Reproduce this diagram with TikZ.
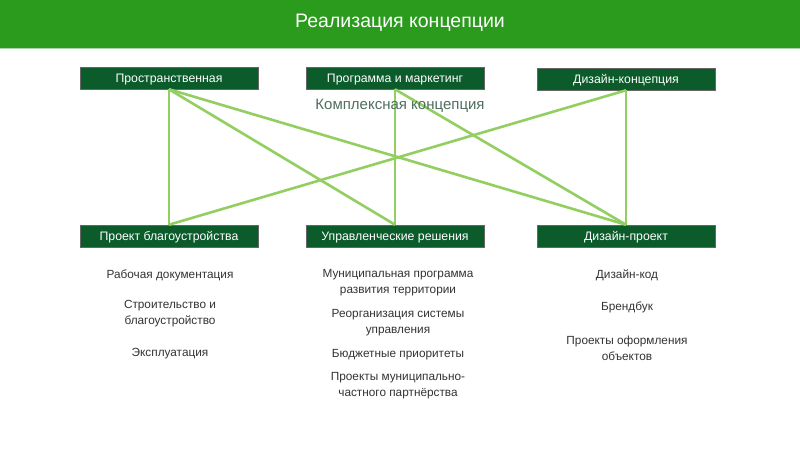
\documentclass[tikz,border=0pt]{standalone}
\usepackage{fontspec}
\setmainfont{Liberation Sans}
\begin{document}
\begin{tikzpicture}[x=1pt,y=-1pt,
  box/.style={draw=black!60,line width=0.6pt,fill=boxgreen,text=white,minimum width=178pt,minimum height=22pt,inner sep=0pt,text height=9.5pt,text depth=0.8pt,font=\fontsize{12.3}{14}\selectfont},
  link/.style={draw=linkgreen,line width=2.6pt},
  desc/.style={text=black!80,align=center,font=\fontsize{11.8}{16}\selectfont,inner sep=0pt}]
\definecolor{bargreen}{HTML}{2B9B1E}
\definecolor{boxgreen}{HTML}{0B5B2B}
\definecolor{linkgreen}{HTML}{93CF60}
\definecolor{subgreen}{HTML}{4E6E5E}
\useasboundingbox (0,0) rectangle (800,450);
\fill[white] (0,0) rectangle (800,450);
\fill[bargreen] (0,0) rectangle (800,48);
\draw[line width=1pt,draw=bargreen!40] (0,48.5) -- (800,48.5);
\node[text=white,font=\fontsize{19.5}{22}\selectfont] (title) at (400,23) {Реализация концепции};
% top boxes
\node[box] (t1) at (169,78) {Пространственная};
\node[box] (t2) at (395,78) {Программа и маркетинг};
\node[box] (t3) at (626,79) {Дизайн-концепция};
% bottom boxes
\node[box] (b1) at (169,236) {Проект благоустройства};
\node[box] (b2) at (395,236) {Управленческие решения};
\node[box] (b3) at (626,236) {Дизайн-проект};
% links
\draw[link] (t1.south) -- (b1.north);
\draw[link] (t1.south) -- (b2.north);
\draw[link] (t1.south) -- (b3.north);
\draw[link] (t2.south) -- (b2.north);
\draw[link] (t2.south) -- (b3.north);
\draw[link] (t3.south) -- (b3.north);
\draw[link] (t3.south) -- (b1.north);
\node[text=subgreen,font=\fontsize{15}{17}\selectfont] (kk) at (400,106) {Комплексная концепция};
% descriptions
\node[desc] (l1) at (170,275) {Рабочая документация};
\node[desc] (l2) at (170,314) {Строительство и\\благоустройство};
\node[desc] (l3) at (170,354) {Эксплуатация};
\node[desc] (m1) at (398,283) {Муниципальная программа\\развития территории};
\node[desc] (m2) at (398,323) {Реорганизация системы\\управления};
\node[desc] (m3) at (398,355) {Бюджетные приоритеты};
\node[desc] (m4) at (398,386) {Проекты муниципально-\\частного партнёрства};
\node[desc] (r1) at (627,275) {Дизайн-код};
\node[desc] (r2) at (627,307) {Брендбук};
\node[desc] (r3) at (627,348) {Проекты оформления\\объектов};
\end{tikzpicture}
\end{document}
